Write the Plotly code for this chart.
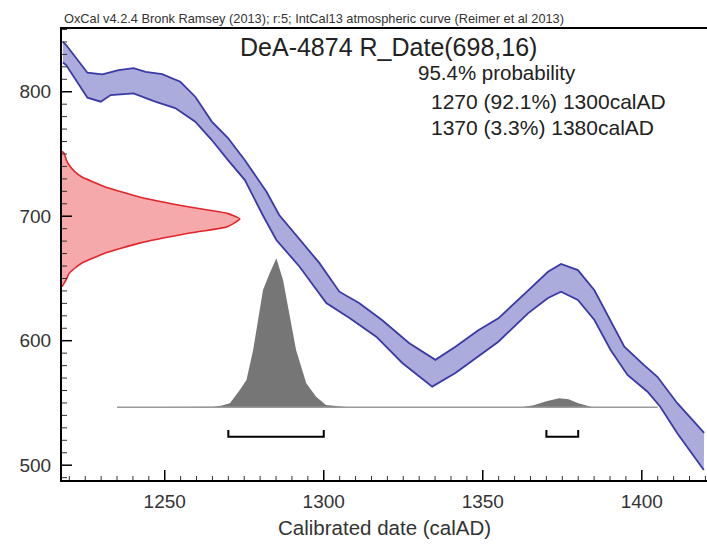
import plotly.graph_objects as go

# ---------------- data ----------------
# IntCal13 band: upper and lower envelopes (calendar year AD, radiocarbon BP)
upper_cal = [1218, 1219, 1225.7, 1230.4, 1235.5, 1240.2, 1244, 1249.2, 1254.9, 1259.6, 1264.8,
             1269.9, 1275.2, 1282, 1286, 1292.4, 1298.6, 1304.9, 1311.1, 1318.3, 1326.8, 1335.1,
             1341.4, 1348.6, 1354.9, 1364.3, 1370.5, 1374.6, 1379.9, 1385.1, 1390.2, 1394.5,
             1400.7, 1404.9, 1411.1, 1419.6]
upper_bp = [840, 837.5, 815.3, 814, 817.4, 819, 816, 814.2, 808, 796, 776,
            762.8, 745, 719.7, 701, 681, 662.5, 639.4, 630.3, 616.6, 598.2, 584.6,
            595.2, 608.4, 618, 640.5, 655.4, 661.6, 656.7, 640.5, 616.6, 595.2,
            580.4, 571, 550, 525.9]
lower_cal = [1218, 1219, 1225.7, 1229.9, 1233, 1240.2, 1247, 1253.3, 1259.6, 1264.8, 1269.9,
             1275.2, 1280.8, 1285.1, 1292.4, 1300.8, 1308.1, 1316.5, 1324.7, 1334.1, 1341.4,
             1348.6, 1354.9, 1364.3, 1370.5, 1374.6, 1379.9, 1385.1, 1390.2, 1395.5, 1401.8,
             1405.8, 1411.1, 1419.5]
lower_bp = [823.5, 821.4, 795.2, 792, 797.3, 798.7, 792, 786.9, 775.9, 761.2, 745.1,
            729, 701, 680.9, 659.4, 630.3, 618.2, 603.2, 582.1, 563.1, 574.1,
            587.3, 599.2, 622.2, 634.3, 639.4, 632.7, 616.6, 592.6, 572.5, 559,
            547, 525.9, 496.2]

# Radiocarbon date R_Date(698,16): relative probability along the BP axis
r14_bp = [752, 750.5, 745, 741.1, 736, 731.7, 723.7, 715.7, 707.6, 702.3, 697.8, 691.6, 686.3,
          678.2, 670.2, 662.2, 658, 654.1, 648, 643.4]
r14_prob = [0.0, 0.012, 0.025, 0.04, 0.07, 0.11, 0.24, 0.43, 0.71, 0.93, 1.0, 0.93, 0.71,
            0.43, 0.24, 0.11, 0.07, 0.04, 0.02, 0.0]

# Calibrated distribution (calendar year AD, relative probability)
cal_year = [1235, 1262, 1265.3, 1268, 1270.5, 1273.6, 1275.7, 1277.8, 1279.9, 1280.9, 1283,
            1285.1, 1287.2, 1289.3, 1291.3, 1294.5, 1297.6, 1300.7, 1304.9, 1308,
            1362, 1366, 1370, 1374, 1377, 1380, 1384, 1386, 1405]
cal_prob = [0, 0, 0.004, 0.012, 0.027, 0.116, 0.183, 0.385, 0.675, 0.787, 0.90,
            1.0, 0.854, 0.608, 0.385, 0.161, 0.071, 0.015, 0.004, 0,
            0, 0.013, 0.04, 0.06, 0.054, 0.027, 0.004, 0, 0]
cal_span = [1235, 1405]

# 95.4% ranges
ranges = [(1270, 1300), (1370, 1380)]

x_ticks = [1250, 1300, 1350, 1400]
y_ticks = [500, 600, 700, 800]

header = "OxCal v4.2.4 Bronk Ramsey (2013); r:5; IntCal13 atmospheric curve (Reimer et al 2013)"
title = "DeA-4874 R_Date(698,16)"
info = ["95.4% probability", "1270 (92.1%) 1300calAD", "1370 (3.3%) 1380calAD"]
x_title = "Calibrated date (calAD)"

# ---------------- layout / scaling constants ----------------
X_RANGE = [1217.7, 1420.5]
Y_RANGE = [488.1, 850.4]
R14_WIDTH = 55.9      # calendar years spanned by a relative probability of 1 (red)
CAL_BASE = 546.5      # BP level of the calibrated-distribution baseline
CAL_HEIGHT = 119.7    # BP height of a relative probability of 1 (grey)
BR_BOTTOM, BR_TOP = 522.9, 528.3

FONT = "Liberation Sans, Arial, sans-serif"
BAND_FILL = "#ababdc"
BAND_LINE = "#3a3aa6"
fig = go.Figure()

# calibrated distribution (grey)
cal_x = cal_year + cal_year[::-1]
cal_y = [CAL_BASE + p * CAL_HEIGHT for p in cal_prob] + [CAL_BASE] * len(cal_year)
fig.add_trace(go.Scatter(x=cal_x, y=cal_y, mode="lines", fill="toself",
                         fillcolor="#767676", line=dict(width=0),
                         hoverinfo="skip"))
fig.add_trace(go.Scatter(x=cal_span, y=[CAL_BASE, CAL_BASE], mode="lines",
                         line=dict(color="#9a9a9a", width=1.5), hoverinfo="skip"))

# range brackets
for a, b in ranges:
    fig.add_trace(go.Scatter(x=[a, a, b, b], y=[BR_TOP, BR_BOTTOM, BR_BOTTOM, BR_TOP],
                             mode="lines", line=dict(color="black", width=2),
                             hoverinfo="skip"))

# calibration band
fig.add_trace(go.Scatter(x=upper_cal + lower_cal[::-1], y=upper_bp + lower_bp[::-1],
                         mode="lines", fill="toself", fillcolor=BAND_FILL,
                         line=dict(width=0), hoverinfo="skip"))
fig.add_trace(go.Scatter(x=upper_cal, y=upper_bp, mode="lines",
                         line=dict(color=BAND_LINE, width=1.8), hoverinfo="skip"))
fig.add_trace(go.Scatter(x=lower_cal, y=lower_bp, mode="lines",
                         line=dict(color=BAND_LINE, width=1.8), hoverinfo="skip"))

# radiocarbon date distribution (red), drawn out from the left axis
r14_x = [X_RANGE[0] + p * R14_WIDTH for p in r14_prob]
fig.add_trace(go.Scatter(x=r14_x + [X_RANGE[0], X_RANGE[0]],
                         y=r14_bp + [r14_bp[-1], r14_bp[0]],
                         mode="lines", fill="toself", fillcolor="#f5a9aa",
                         line=dict(width=0), hoverinfo="skip"))
fig.add_trace(go.Scatter(x=r14_x, y=r14_bp, mode="lines",
                         line=dict(color="#e2252b", width=1.6, shape="spline", smoothing=0.4),
                         hoverinfo="skip"))

fig.update_layout(
    width=707, height=547,
    margin=dict(l=62, r=0, t=29, b=67),
    paper_bgcolor="white", plot_bgcolor="white",
    showlegend=False,
    font=dict(family=FONT, color="#333333"),
    xaxis=dict(range=X_RANGE, showgrid=False, zeroline=False,
               showline=True, linecolor="black", linewidth=2, mirror=True,
               tickmode="array", tickvals=x_ticks, ticks="",
               ticklabelstandoff=3,
               tickfont=dict(size=19, color="#333333")),
    yaxis=dict(range=Y_RANGE, showgrid=False, zeroline=False,
               showline=True, linecolor="black", linewidth=2,
               tickmode="array", tickvals=y_ticks, ticks="",
               ticklabelstandoff=5,
               tickfont=dict(size=19, color="#333333")),
)

# inward-pointing tick marks, positioned through the axes' own scales
shapes = []
x_minor = [v for v in range(1220, 1421, 5) if v % 50 != 0]
y_minor = [v for v in range(490, 851, 10) if v % 100 != 0]
for v in x_ticks:
    shapes.append(dict(type="line", xref="x", yref="paper", x0=v, x1=v,
                       ysizemode="pixel", yanchor=0, y0=0, y1=10,
                       line=dict(color="black", width=1.5), layer="above"))
for v in x_minor:
    shapes.append(dict(type="line", xref="x", yref="paper", x0=v, x1=v,
                       ysizemode="pixel", yanchor=0, y0=0, y1=4,
                       line=dict(color="#333333", width=1), layer="above"))
for v in y_ticks:
    shapes.append(dict(type="line", xref="paper", yref="y", y0=v, y1=v,
                       xsizemode="pixel", xanchor=0, x0=0, x1=10,
                       line=dict(color="black", width=1.5), layer="above"))
for v in y_minor:
    shapes.append(dict(type="line", xref="paper", yref="y", y0=v, y1=v,
                       xsizemode="pixel", xanchor=0, x0=0, x1=5,
                       line=dict(color="#333333", width=1), layer="above"))
fig.update_layout(shapes=shapes)

def py(px):
    return (480 - px) / 451.0

def pxx(px):
    return (px - 62) / 645.0

ann = [
    dict(text=header, x=0, y=py(19), xanchor="left", yanchor="middle",
         font=dict(size=12.8, color="#333333")),
    dict(text=title, x=pxx(388), y=py(47), xanchor="center", yanchor="middle",
         font=dict(size=25, color="#222222")),
    dict(text=info[0], x=pxx(416), y=py(72.5), xanchor="left", yanchor="middle",
         font=dict(size=20.5, color="#222222")),
    dict(text=info[1], x=pxx(429), y=py(101.5), xanchor="left", yanchor="middle",
         font=dict(size=21, color="#222222")),
    dict(text=info[2], x=pxx(429), y=py(128), xanchor="left", yanchor="middle",
         font=dict(size=21, color="#222222")),
    dict(text=x_title, x=0.5, y=py(527), xanchor="center", yanchor="middle",
         font=dict(size=20.5, color="#333333")),
]
for a in ann:
    a.update(xref="paper", yref="paper", showarrow=False)
fig.update_layout(annotations=ann)

fig.write_html("out.html")
